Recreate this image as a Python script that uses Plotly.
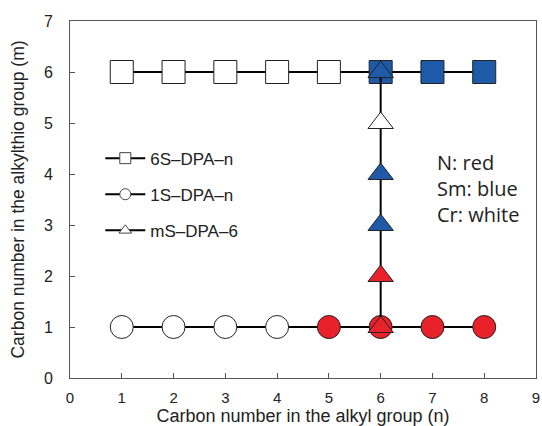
import plotly.graph_objects as go

RED = "#E8212B"
BLUE = "#1F5AA8"
WHITE = "#FFFFFF"

# 6S-DPA-n series (m = 6)
s6_x = [1, 2, 3, 4, 5, 6, 7, 8]
s6_y = [6, 6, 6, 6, 6, 6, 6, 6]
s6_colors = [WHITE, WHITE, WHITE, WHITE, WHITE, BLUE, BLUE, BLUE]

# 1S-DPA-n series (m = 1)
s1_x = [1, 2, 3, 4, 5, 6, 7, 8]
s1_y = [1, 1, 1, 1, 1, 1, 1, 1]
s1_colors = [WHITE, WHITE, WHITE, WHITE, RED, RED, RED, RED]

# mS-DPA-6 series (n = 6)
m6_x = [6, 6, 6, 6, 6, 6]
m6_y = [1, 2, 3, 4, 5, 6]
m6_colors = [RED, RED, BLUE, BLUE, WHITE, BLUE]

legend_names = ["6S\u2013DPA\u2013n", "1S\u2013DPA\u2013n", "mS\u2013DPA\u20136"]
legend_symbols = ["square", "circle", "triangle-up"]

x_ticks = [0, 1, 2, 3, 4, 5, 6, 7, 8, 9]
y_ticks = [0, 1, 2, 3, 4, 5, 6, 7]

FONT = "Liberation Sans, Arial"
TXT = "#222222"

fig = go.Figure()

line_style = dict(color="black", width=2)
outline = dict(color="#222222", width=1)

fig.add_trace(go.Scatter(x=s6_x, y=s6_y, mode="lines+markers", line=line_style,
                         marker=dict(symbol="square", size=23, color=s6_colors, line=outline),
                         showlegend=False, cliponaxis=False))
fig.add_trace(go.Scatter(x=s1_x, y=s1_y, mode="lines+markers", line=line_style,
                         marker=dict(symbol="circle", size=23, color=s1_colors, line=outline),
                         showlegend=False, cliponaxis=False))
fig.add_trace(go.Scatter(x=m6_x, y=m6_y, mode="lines+markers", line=line_style,
                         marker=dict(symbol="triangle-up", size=22, color=m6_colors, line=outline),
                         showlegend=False, cliponaxis=False))

for i, (name, sym) in enumerate(zip(legend_names, legend_symbols)):
    fig.add_trace(go.Scatter(x=[None], y=[None], mode="lines+markers", name=name,
                             legendgroup=f"g{i}",
                             line=dict(color="black", width=2),
                             marker=dict(symbol=sym, size=11, color=WHITE,
                                         line=dict(color="#444444", width=1))))

axis_common = dict(showline=True, linecolor="#555555", linewidth=1, mirror=True,
                   ticks="inside", ticklen=5, tickcolor="#555555", showgrid=False,
                   zeroline=False, automargin=False)

fig.update_xaxes(range=[0, 9], tickvals=x_ticks, ticklabelstandoff=6,
                 tickfont=dict(family=FONT, size=15, color=TXT),
                 title=dict(text="Carbon number in the alkyl group (n)", standoff=5,
                            font=dict(family=FONT, size=18, color=TXT)),
                 **axis_common)
fig.update_yaxes(range=[0, 7], tickvals=y_ticks, ticklabelstandoff=13,
                 tickfont=dict(family=FONT, size=16, color=TXT),
                 title=dict(text="Carbon number in the alkylthio group (m)", standoff=14,
                            font=dict(family=FONT, size=17.5, color=TXT)),
                 **axis_common)

fig.add_annotation(x=0.783, y=0.648, xref="paper", yref="paper", xanchor="left", yanchor="top",
                   text="N: red<br>Sm: blue<br>Cr: white", showarrow=False, align="left",
                   font=dict(family="Open Sans", size=20, color=TXT))

fig.update_layout(
    width=542, height=426,
    margin=dict(l=70, r=6, t=21, b=48),
    plot_bgcolor="white", paper_bgcolor="white",
    legend=dict(x=0.065, y=0.665, xanchor="left", yanchor="top", bgcolor="rgba(0,0,0,0)",
                font=dict(family=FONT, size=17, color=TXT),
                tracegroupgap=11, itemwidth=40),
)

fig.write_html("out.html", config={"displayModeBar": False},
               post_script="document.body.style.margin='0';document.body.style.overflow='hidden';")
